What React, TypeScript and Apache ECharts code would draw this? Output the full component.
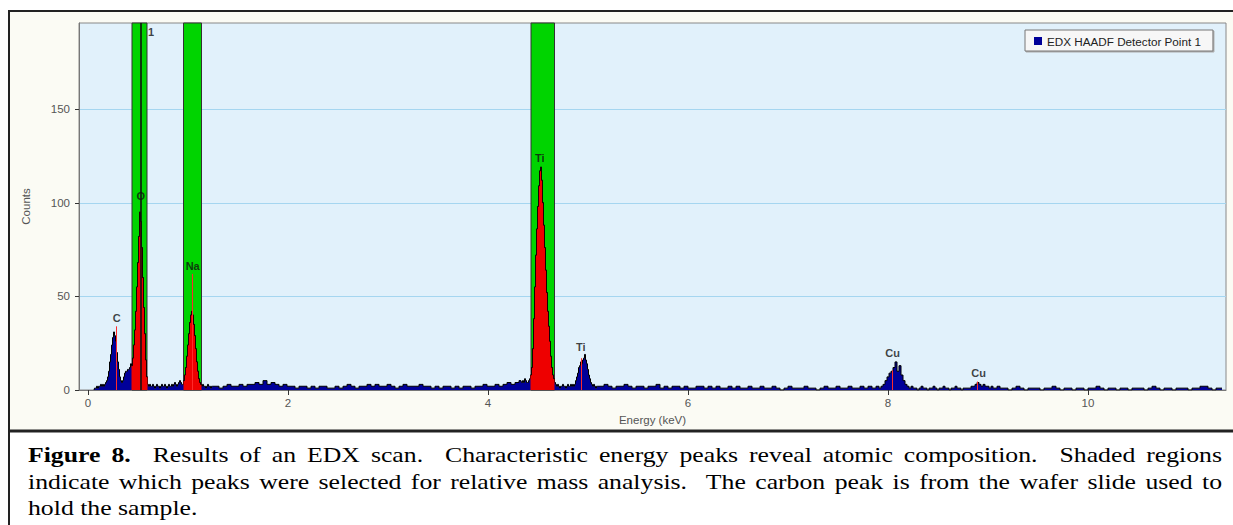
import React, { useEffect, useRef } from 'react';
import * as echarts from 'echarts';

// ---- spectrum counts, per energy segment (start keV, bin width keV, counts) ----
const lowStart = 0.06;
const lowStep = 0.01;
const lowCounts = [
  0, 1, 1, 2, 1, 2, 2, 3, 2, 3,
  2, 3, 4, 5, 7, 10, 15, 19, 24, 28,
  31, 29, 26, 20, 15, 11, 7, 5, 4, 5,
  7, 9, 10, 10, 11, 11, 12, 14, 13, 17,
  24, 32, 42, 55, 68, 82, 95, 90, 76, 60,
  44, 30, 16, 7, 3, 2, 3, 2, 2, 3,
  2, 1, 2, 3, 2, 2, 1, 2, 3, 2,
  2, 3, 2, 1, 2, 3, 2, 2, 3, 2,
  3, 4, 3, 2, 3, 4, 5, 4, 3, 3,
  5, 8, 12, 18, 24, 30, 36, 40, 42, 40,
  35, 29, 22, 15, 10, 6, 4, 3, 2, 3,
  2, 2, 1, 2, 3, 2, 2, 1, 2, 2,
];
const midStart = 1.29;
const midStep = 0.04;
const midCounts = [
  2, 1, 2, 3, 2, 2, 3, 2, 3, 3,
  4, 3, 5, 3, 4, 3, 2, 3, 2, 2,
  1, 2, 2, 1, 2, 1, 2, 2, 1, 1,
  2, 1, 2, 3, 2, 1, 2, 2, 3, 2,
  3, 2, 2, 3, 2, 1, 2, 3, 2, 2,
  2, 3, 2, 2, 1, 2, 1, 2, 2, 1,
  2, 1, 2, 2, 1, 2, 2, 3, 2, 2,
  3, 2, 3, 4, 3, 4, 5,
];
const tiStart = 4.34;
const tiStep = 0.01;
const tiCounts = [
  4, 5, 4, 6, 5, 4, 4, 5, 6, 8,
  12, 22, 38, 55, 72, 86, 98, 109, 117, 119,
  112, 100, 88, 76, 64, 52, 42, 34, 26, 18,
  12, 8, 6, 4, 3, 2, 3, 2, 1, 2,
  2, 3, 2, 2, 1, 2, 3, 2, 2, 3,
  2, 3, 2, 3, 5, 7, 9, 12, 13, 15,
  14, 16, 17, 19, 16, 14, 11, 8, 6, 4,
  3, 2, 3, 2, 1, 2, 2,
];
const highStart = 5.14;
const highStep = 0.04;
const highCounts = [
  2, 3, 2, 1, 2, 2, 3, 2, 1, 2,
  2, 1, 2, 2, 3, 1, 2, 1, 2, 2,
  1, 2, 1, 1, 2, 2, 1, 2, 1, 2,
  1, 1, 2, 1, 2, 1, 1, 2, 1, 1,
  2, 1, 1, 2, 1, 0, 1, 2, 1, 1,
  1, 2, 1, 1, 0, 1, 2, 1, 1, 2,
  1, 1, 2, 1, 1, 2, 1, 2, 1, 2,
];
const cuStart = 7.92;
const cuStep = 0.02;
const cuCounts = [
  1, 2, 3, 5, 7, 9, 10, 12, 15, 10, 13, 8, 5, 3, 2,
  1, 2, 1, 1, 0, 1, 2, 1, 1, 0,
  1, 1, 2, 1, 0, 1, 1, 2, 1, 1,
  0, 1, 1, 2, 1, 1, 0, 1, 1, 1,
  1, 2, 2, 3, 4, 3, 2, 3, 2, 2, 1, 2, 1, 1, 2,
];
const tailStart = 9.14;
const tailStep = 0.04;
const tailCounts = [
  1, 1, 0, 1, 2, 1, 0, 1, 1, 1,
  0, 1, 1, 2, 1, 0, 1, 1, 0, 1,
  1, 0, 1, 1, 2, 1, 0, 1, 1, 0,
  1, 1, 0, 1, 1, 1, 0, 1, 2, 1,
  0, 1, 1, 0, 1, 1, 1, 0, 1, 1,
  2, 2, 1, 0, 1, 1,
];

// ---- selected regions (green bands), keV ----
const bandStarts = [0.44, 0.955, 4.43];
const bandEnds = [0.59, 1.135, 4.665];

// ---- peak marker lines (red), keV and counts ----
const markerEnergies = [0.285, 1.045, 4.935, 8.045, 8.895];
const markerTops = [34, 62, 17, 10.5, 4.5];
const cursorEnergy = 0.527;

// ---- peak labels ----
const labelNames = ['C', 'O', 'Na', 'Ti', 'Ti', 'Cu', 'Cu', '1'];
const labelEnergies = [0.287, 0.527, 1.047, 4.517, 4.927, 8.047, 8.907, 0.63];
const labelCounts = [38.5, 103.5, 66, 124, 23, 20, 9, 191];

// ---- axes ----
const xTicks = [0, 2, 4, 6, 8, 10];
const yTicks = [0, 50, 100, 150];
const xMin = -0.09;
const xMax = 11.38;
const yMax = 196;

const seriesName = 'EDX HAADF Detector Point 1';

const captionLines = [
  'Figure 8.  Results of an EDX scan.  Characteristic energy peaks reveal atomic composition.  Shaded regions',
  'indicate which peaks were selected for relative mass analysis.  The carbon peak is from the wafer slide used to',
  'hold the sample.',
];

function seg(start: number, step: number, counts: number[]) {
  return counts.map((c, i) => [+(start + i * step).toFixed(3), c]);
}

const spectrum = [
  ...seg(lowStart, lowStep, lowCounts),
  ...seg(midStart, midStep, midCounts),
  ...seg(tiStart, tiStep, tiCounts),
  ...seg(highStart, highStep, highCounts),
  ...seg(cuStart, cuStep, cuCounts),
  ...seg(tailStart, tailStep, tailCounts),
];

const inBand = (e: number) => bandStarts.some((s, i) => e >= s && e <= bandEnds[i]);
const roiData = spectrum.map(([e, c]) => [e, inBand(e) ? c : null]);

const CAP_FONT = 'Liberation Serif';
const CAP_SIZE = 22;
const CAP_SCALE = 1.17;
const CAP_LEFT = 28;
const CAP_RIGHT = 1222;
const CAP_Y = [455, 481.5, 508];

function buildCaption(): any[] {
  const cv = document.createElement('canvas');
  const ctx = cv.getContext('2d')!;
  const measure = (t: string, bold: boolean) => {
    ctx.font = `${bold ? 'bold ' : ''}${CAP_SIZE}px "${CAP_FONT}"`;
    return ctx.measureText(t).width * CAP_SCALE;
  };
  const els: any[] = [];
  captionLines.forEach((line, li) => {
    const tokens = line.split(' ');
    const bolds = tokens.map((_, ti) => li === 0 && ti < 2);
    const widths = tokens.map((t, ti) => (t ? measure(t, bolds[ti]) : 0));
    const sum = widths.reduce((a, b) => a + b, 0);
    const last = li === captionLines.length - 1;
    const gap = last ? measure(' ', false) : (CAP_RIGHT - CAP_LEFT - sum) / (tokens.length - 1);
    let x = CAP_LEFT;
    tokens.forEach((t, ti) => {
      if (t) {
        els.push({
          type: 'text',
          x,
          y: CAP_Y[li],
          scaleX: CAP_SCALE,
          silent: true,
          style: {
            text: t,
            fontFamily: CAP_FONT,
            fontSize: CAP_SIZE,
            fontWeight: bolds[ti] ? 'bold' : 'normal',
            fill: '#000',
            verticalAlign: 'middle',
            textVerticalAlign: 'middle',
          },
        });
      }
      x += widths[ti] + gap;
    });
  });
  return els;
}

export default function App() {
  const ref = useRef<HTMLDivElement>(null);
  useEffect(() => {
    if (!ref.current) return;
    const chart = echarts.init(ref.current, undefined, { renderer: 'svg' });
    const sans = 'Liberation Sans';
    const option: any = {
      animation: false,
      backgroundColor: '#fbfbf4',
      grid: {
        left: 79,
        right: 7,
        top: 23,
        bottom: 135,
        show: true,
        backgroundColor: '#e1f1fb',
        borderColor: '#888',
        borderWidth: 1,
      },
      legend: {
        data: [seriesName],
        left: 1025,
        top: 30,
        icon: 'rect',
        itemWidth: 8,
        itemHeight: 8,
        itemStyle: { color: '#000099', borderWidth: 0 },
        padding: [5, 12, 4, 9],
        backgroundColor: '#f7f7f7',
        borderColor: '#777',
        borderWidth: 1,
        shadowColor: '#aaa',
        shadowOffsetX: 1,
        shadowOffsetY: 1,
        shadowBlur: 0,
        textStyle: { fontSize: 11.7, color: '#222', fontFamily: sans },
        selectedMode: false,
      },
      xAxis: {
        type: 'value',
        min: xMin,
        max: xMax,
        name: 'Energy (keV)',
        nameLocation: 'middle',
        nameGap: 22,
        nameTextStyle: { color: '#555', fontSize: 11.5, fontFamily: sans },
        axisLine: { show: true, onZero: false, lineStyle: { color: '#777' } },
        axisTick: { show: true, customValues: xTicks, length: 5, lineStyle: { color: '#333' } },
        axisLabel: { customValues: xTicks, color: '#555', fontSize: 11.5, margin: 7, fontFamily: sans },
        splitLine: { show: false },
      },
      yAxis: {
        type: 'value',
        min: 0,
        max: yMax,
        interval: 50,
        name: 'Counts',
        nameLocation: 'middle',
        nameGap: 47,
        nameRotate: 90,
        nameTextStyle: { color: '#555', fontSize: 11.5, fontFamily: sans },
        axisLine: { show: true, onZero: false, lineStyle: { color: '#777' } },
        axisTick: { show: true, customValues: yTicks, length: 4, lineStyle: { color: '#333' } },
        axisLabel: { customValues: yTicks, color: '#555', fontSize: 11.5, margin: 9, fontFamily: sans },
        splitLine: { show: true, lineStyle: { color: '#a5d6f0' } },
      },
      series: [
        {
          type: 'line',
          name: 'bands',
          data: [],
          z: 1,
          silent: true,
          markArea: {
            silent: true,
            itemStyle: { color: '#00d400', borderColor: '#333', borderWidth: 1 },
            data: bandStarts.map((s, i) => [{ xAxis: s }, { xAxis: bandEnds[i] }]),
          },
        },
        {
          type: 'line',
          name: seriesName,
          data: spectrum,
          step: 'middle',
          symbol: 'none',
          z: 2,
          silent: true,
          lineStyle: { color: '#000', width: 1 },
          itemStyle: { color: '#000099' },
          areaStyle: { color: '#000099', opacity: 1 },
        },
        {
          type: 'line',
          name: 'selected',
          data: roiData,
          step: 'middle',
          symbol: 'none',
          z: 3,
          silent: true,
          connectNulls: false,
          lineStyle: { color: '#000', width: 0.8 },
          itemStyle: { color: '#ee0000' },
          areaStyle: { color: '#ee0000', opacity: 1 },
        },
        {
          type: 'line',
          name: 'markers',
          data: [],
          z: 4,
          silent: true,
          markLine: {
            silent: true,
            symbol: ['none', 'none'],
            label: { show: false },
            lineStyle: { color: '#ff2a2a', width: 1, type: 'solid' },
            data: markerEnergies.map((e, i) => [{ coord: [e, 0] }, { coord: [e, markerTops[i]] }]),
          },
        },
        {
          type: 'line',
          name: 'cursor',
          data: [],
          z: 4,
          silent: true,
          markLine: {
            silent: true,
            symbol: ['none', 'none'],
            label: { show: false },
            lineStyle: { color: '#111', width: 1.6, type: 'solid', opacity: 1 },
            data: [[{ coord: [cursorEnergy, 0] }, { coord: [cursorEnergy, yMax] }]],
          },
        },
        {
          type: 'scatter',
          name: 'labels',
          z: 5,
          silent: true,
          symbolSize: 1,
          itemStyle: { color: 'rgba(0,0,0,0)' },
          data: labelEnergies.map((e, i) => ({ value: [e, labelCounts[i]], name: labelNames[i] })),
          label: {
            show: true,
            position: 'inside',
            formatter: '{b}',
            color: '#111',
            fontSize: 11,
            fontWeight: 'bold',
            fontFamily: sans,
          },
        },
      ],
      graphic: [
        { type: 'rect', shape: { x: 0, y: 0, width: 1233, height: 10 }, style: { fill: '#fff' }, silent: true },
        { type: 'rect', shape: { x: 0, y: 0, width: 8, height: 525 }, style: { fill: '#fff' }, silent: true },
        { type: 'rect', shape: { x: 0, y: 432, width: 1233, height: 93 }, style: { fill: '#fff' }, silent: true },
        { type: 'line', shape: { x1: 8, y1: 11, x2: 1233, y2: 11 }, style: { stroke: '#222', lineWidth: 2 }, silent: true },
        { type: 'line', shape: { x1: 9, y1: 10, x2: 9, y2: 525 }, style: { stroke: '#222', lineWidth: 2 }, silent: true },
        { type: 'line', shape: { x1: 8, y1: 431, x2: 1233, y2: 431 }, style: { stroke: '#222', lineWidth: 3 }, silent: true },
        ...buildCaption(),
      ],
    };
    chart.setOption(option);
    return () => chart.dispose();
  }, []);
  return <div ref={ref} style={{ position: 'fixed', left: 0, top: 0, width: 1233, height: 525 }} />;
}
